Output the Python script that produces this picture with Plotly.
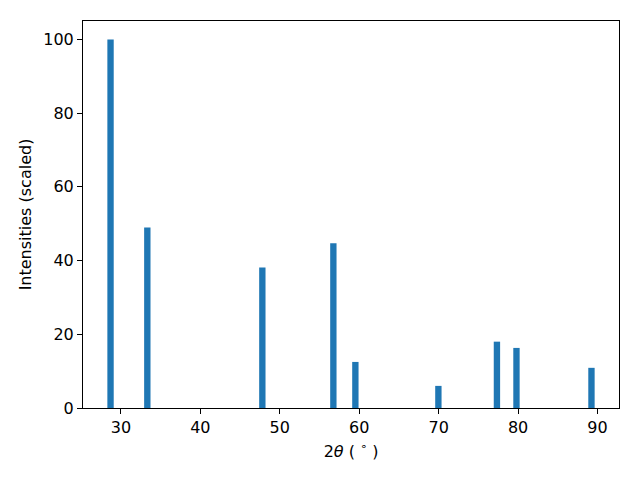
import plotly.graph_objects as go

two_theta = [28.70, 33.33, 47.81, 56.75, 59.52, 69.97, 77.34, 79.80, 89.24]
intensity = [100.0, 49.0, 38.1, 44.7, 12.5, 6.0, 18.0, 16.3, 10.9]
bar_width = 0.8

fig = go.Figure(go.Bar(x=two_theta, y=intensity, width=bar_width,
                       marker=dict(color="#1f77b4", line=dict(width=0))))

lo = min(two_theta) - bar_width / 2
hi = max(two_theta) + bar_width / 2
pad = 0.05 * (hi - lo)

FONT = dict(family="DejaVu Sans", size=16, color="black")

axis_common = dict(showline=True, linecolor="black", linewidth=1, mirror=True,
                   ticks="outside", ticklen=5, tickwidth=1, tickcolor="black",
                   showgrid=False, zeroline=False, automargin=False,
                   tickfont=FONT)

fig.update_xaxes(range=[lo - pad, hi + pad], tickvals=[30, 40, 50, 60, 70, 80, 90],
                 title=dict(text="2<i>θ</i> ( <sup>∘</sup> )", standoff=9, font=FONT),
                 **axis_common)
fig.update_yaxes(range=[0, 105], tickvals=[0, 20, 40, 60, 80, 100],
                 title=dict(text="Intensities (scaled)", standoff=7, font=FONT),
                 **axis_common)

# page body has an 8px margin; size the figure so the plot area lands where the reference has it
fig.update_layout(width=624, height=464, margin=dict(l=75, r=13, t=13, b=64),
                  plot_bgcolor="white", paper_bgcolor="white", showlegend=False)

fig.write_html("out.html")
